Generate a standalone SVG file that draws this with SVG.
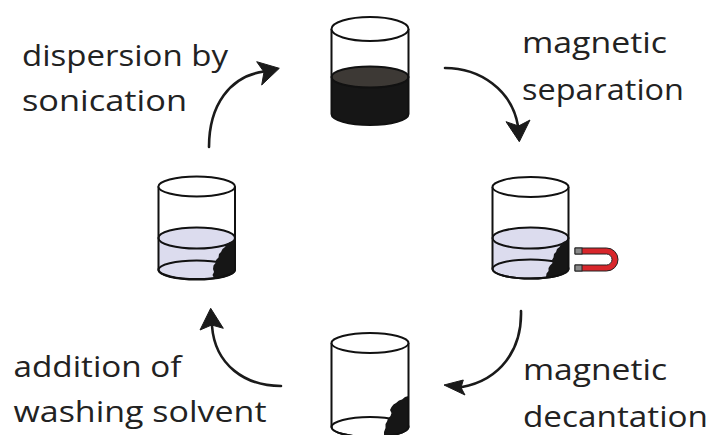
<svg xmlns="http://www.w3.org/2000/svg" width="711" height="435" viewBox="0 0 711 435">
  <style>
    .label { font-family: "Open Sans", "Noto Sans", "Liberation Sans", sans-serif; font-size: 29px; fill: #222; }
    .glass { fill: none; stroke: #111; stroke-width: 2; }
    .rim { fill: #fff; stroke: #111; stroke-width: 2; }
    .wash { fill: #dcdcee; }
    .surface { fill: #dcdcee; stroke: #111; stroke-width: 2; }
    .solid { fill: #161616; }
    .flow { fill: none; stroke: #1a1a1a; stroke-width: 2.6; stroke-linecap: round; }
    .head { fill: #1a1a1a; stroke: #1a1a1a; stroke-width: 1; stroke-linejoin: round; }
  </style>
  <defs>
    <clipPath id="in-left"><path d="M158.5,186.5 V270 A38.3,9.5 0 0 0 235,270 V186.5 Z"/></clipPath>
    <clipPath id="in-right"><path d="M492.5,187 V269 A38,9.5 0 0 0 568.5,269 V187 Z"/></clipPath>
    <clipPath id="in-bottom"><path d="M331.5,343 V427 A38.5,10 0 0 0 408.5,427 V343 Z"/></clipPath>
  </defs>
  <rect width="711" height="435" fill="#fff"/>

  <!-- suspension: dark dispersed particles -->
  <g id="beaker-dispersed">
    <path class="solid" d="M331.5,77 V114 A38.5,11 0 0 0 408.5,114 V77 Z"/>
    <ellipse cx="370" cy="77" rx="38.5" ry="10.5" fill="#3d3935" stroke="#111" stroke-width="2"/>
    <path class="glass" d="M331.5,29 V114 A38.5,11 0 0 0 408.5,114 V29"/>
    <ellipse class="rim" cx="370" cy="29" rx="38.5" ry="12"/>
  </g>

  <!-- particles pulled to the wall by the magnet -->
  <g id="beaker-separated">
    <path class="wash" d="M492.5,238 V269 A38,9.5 0 0 0 568.5,269 V238 Z"/>
    <ellipse class="surface" cx="530.5" cy="238" rx="38" ry="10.5"/>
    <ellipse class="glass" cx="530.5" cy="269" rx="38" ry="9.5"/>
    <path class="solid" clip-path="url(#in-right)" d="M568.5,241 L564,241.5 L561,244 L559.5,247 L557,249 L556,252 L554,254 L553.5,257.5 L552,260 L552.5,263 L550,265.5 L548.5,268 L548.5,271 L546.5,273.5 L546,277 L547,280 L548,284 L580,290 L580,238 Z"/>
    <path class="glass" d="M492.5,187 V269 A38,9.5 0 0 0 568.5,269 V187"/>
    <ellipse class="rim" cx="530.5" cy="187" rx="38" ry="10"/>
  </g>

  <g id="magnet">
    <path d="M575,248 H606.5 A11.5,11.5 0 0 1 606.5,271 H575 V265 H606.5 A5.5,5.5 0 0 0 606.5,254 H575 Z" fill="#d8262b" stroke="#222" stroke-width="1"/>
    <rect x="575" y="248" width="7" height="6" fill="#8a8a8a" stroke="#222" stroke-width="1"/>
    <rect x="575" y="265" width="7" height="6" fill="#8a8a8a" stroke="#222" stroke-width="1"/>
  </g>

  <!-- emptied beaker with retained particles -->
  <g id="beaker-decanted">
    <ellipse class="glass" cx="370" cy="427" rx="38.5" ry="10"/>
    <path class="solid" clip-path="url(#in-bottom)" d="M408.5,396 L405,397 L402,399.5 L399,400.5 L396,403 L393.5,404.5 L391.5,407 L390,410 L391.5,413 L390.5,416 L388,418.5 L387,421.5 L385.5,424 L385.5,428 L384,432 L384,445 L415,445 L415,395 Z"/>
    <path class="glass" d="M331.5,343 V427 A38.5,10 0 0 0 408.5,427 V343"/>
    <ellipse class="rim" cx="370" cy="343" rx="38.5" ry="10"/>
  </g>

  <!-- fresh solvent added, particles still on the wall -->
  <g id="beaker-washed">
    <path class="wash" d="M158.5,238 V270 A38.3,9.5 0 0 0 235,270 V238 Z"/>
    <ellipse class="surface" cx="196.7" cy="238" rx="38.3" ry="10.5"/>
    <ellipse class="glass" cx="196.7" cy="270" rx="38.3" ry="9.5"/>
    <path class="solid" clip-path="url(#in-left)" d="M235,240 L230,242 L226.5,244 L225,247 L222.5,249 L221,252 L219,254 L218.5,257.5 L216,260 L215.5,263 L213.5,265.5 L213,269 L214,272 L212.5,275 L214,278 L217,281 L245,292 L245,238 Z"/>
    <path class="glass" d="M158.5,186.5 V270 A38.3,9.5 0 0 0 235,270 V186.5"/>
    <ellipse class="rim" cx="196.7" cy="186.5" rx="38.3" ry="10"/>
  </g>

  <g id="connectors">
    <path class="flow" d="M209,147 C209,105 230,76 264,71.5"/>
    <polygon class="head" points="279.3,68.3 256.7,61.7 264,72 261.7,85"/>
    <path class="flow" d="M445,68 C480,68 512,90 518,126"/>
    <polygon class="head" points="519.3,141.7 506,121.7 518.5,126 530,120"/>
    <path class="flow" d="M521,311 C522,350 500,380 462,387"/>
    <polygon class="head" points="444,385 463.3,380 461,387.5 465,395"/>
    <path class="flow" d="M281,386 C245,386 215,365 212,326"/>
    <polygon class="head" points="210.7,308.3 200,330 211.7,325 223.3,328.3"/>
  </g>

  <g id="labels">
    <text class="label" x="22" y="66" textLength="206" lengthAdjust="spacingAndGlyphs">dispersion by</text>
    <text class="label" x="22" y="111" textLength="165" lengthAdjust="spacingAndGlyphs">sonication</text>
    <text class="label" x="522" y="53" textLength="145" lengthAdjust="spacingAndGlyphs">magnetic</text>
    <text class="label" x="522" y="100" textLength="162" lengthAdjust="spacingAndGlyphs">separation</text>
    <text class="label" x="13.5" y="377" textLength="168" lengthAdjust="spacingAndGlyphs">addition of</text>
    <text class="label" x="13.5" y="422" textLength="253" lengthAdjust="spacingAndGlyphs">washing solvent</text>
    <text class="label" x="523" y="380" textLength="144" lengthAdjust="spacingAndGlyphs">magnetic</text>
    <text class="label" x="523" y="427" textLength="185" lengthAdjust="spacingAndGlyphs">decantation</text>
  </g>
</svg>
